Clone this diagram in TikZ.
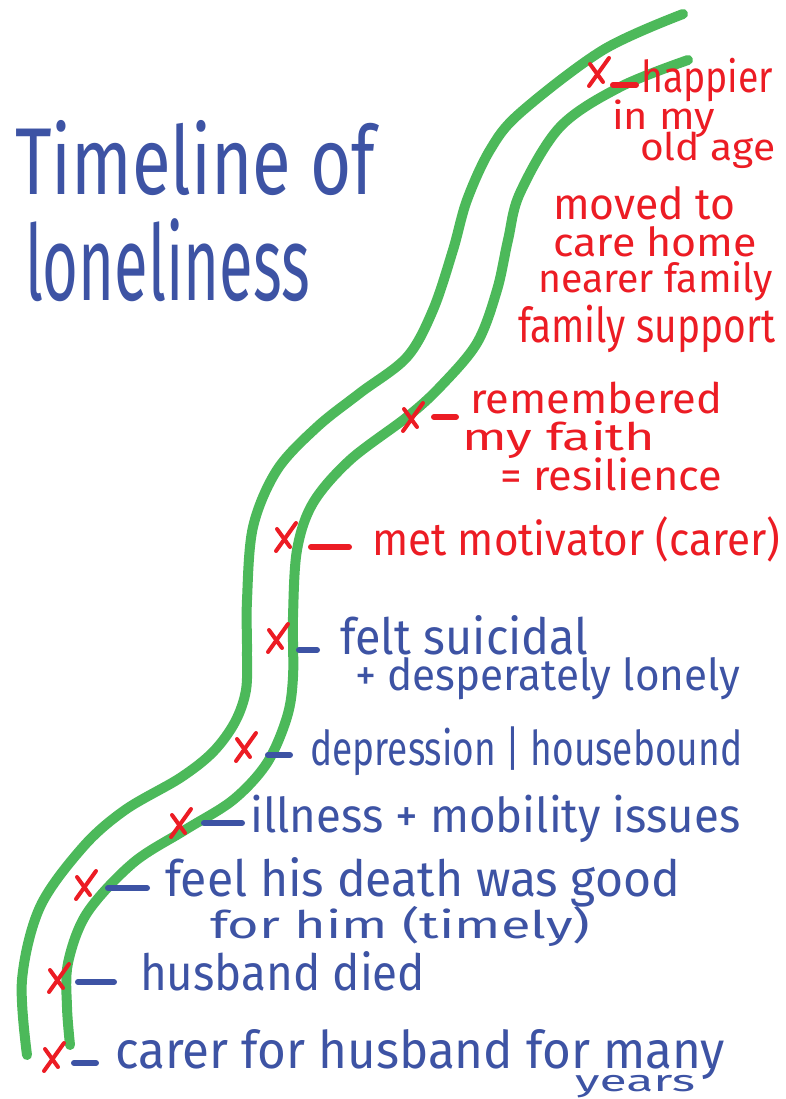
\documentclass[tikz,border=0pt]{standalone}
\usepackage{fontspec}
\setmainfont{Fira Sans}
\usepackage{graphicx}
\definecolor{tgreen}{HTML}{4CB95A}
\definecolor{tred}{HTML}{EC1C24}
\definecolor{tblue}{HTML}{3D53A4}
\newcommand\fitw[2]{\resizebox{#1pt}{\height}{#2}}
\tikzset{
  road/.style={draw=tgreen, line width=10pt, line cap=round, line join=round},
  xmark/.style={minimum size=44pt, inner sep=0pt, path picture={
      \draw[tred, line width=4pt, line cap=round]
        ([shift={(-9pt,-14pt)}]path picture bounding box.center) -- ([shift={(11pt,14pt)}]path picture bounding box.center)
        ([shift={(-8pt,8pt)}]path picture bounding box.center) -- ([shift={(5pt,-10pt)}]path picture bounding box.center);}},
  rdash/.style={draw=tred, line width=6pt, line cap=round},
  bdash/.style={draw=tblue, line width=6pt, line cap=round},
  rtext/.style={text=tred, anchor=base west, inner sep=0pt},
  btext/.style={text=tblue, anchor=base west, inner sep=0pt},
}
\newcommand\fs[1]{\fontsize{#1}{#1}\selectfont}
\begin{document}
\begin{tikzpicture}[x=1pt,y=-1pt]
\useasboundingbox (0,0) rectangle (786,1099);
% roads
\draw[road] plot[smooth, tension=0.55] coordinates {(683,14) (603,50) (520,113) (490,150) (467,200) (453,250) (433,310) (407,357) (360,393) (317,427) (277,470) (253,527) (247,600) (247,650) (246,690) (235,722) (213,752) (180,778) (125,810) (83,847) (40,907) (22,980) (27,1055)};
\draw[road] plot[smooth, tension=0.55] coordinates {(688,60) (620,87) (560,127) (520,193) (508,240) (497,290) (477,343) (440,387) (407,417) (350,460) (313,503) (297,550) (293,617) (293,677) (287,717) (267,763) (233,800) (185,830) (133,863) (87,913) (68,963) (67,1007) (70,1045)};
% title
\node[btext] (t1) at (15,195) {\fitw{360}{\fs{95}Timeline of}};
\node[btext] (t2) at (25,300) {\fitw{285}{\fs{105}loneliness}};
% marks
\node[xmark] (x1) at (598,72) {};
\node[xmark] (x2) at (412,417) {};
\node[xmark] (x3) at (285,537) {};
\node[xmark] (x4) at (277,638) {};
\node[xmark] (x5) at (245,747) {};
\node[xmark] (x6) at (180,823) {};
\node[xmark] (x7) at (85,885) {};
\node[xmark] (x8) at (58,978) {};
\node[xmark] (x9) at (53,1057) {};
% red texts
\node[rtext] (r1) at (641,93) {\fitw{132}{\fs{44}happier}};
\node[rtext] (r2) at (612,130) {\fitw{103}{\fs{38}in my}};
\node[rtext] (r3) at (640,161) {\fitw{135}{\fs{38}old age}};
\node[rtext] (r4) at (553,220) {\fitw{182}{\fs{44}moved to}};
\node[rtext] (r5) at (553,256) {\fitw{204}{\fs{40}care home}};
\node[rtext] (r6) at (538,292) {\fitw{235}{\fs{40}nearer family}};
\node[rtext] (r7) at (518,342) {\fitw{257}{\fs{48}family support}};
\node[rtext] (r8) at (470,413) {\fitw{252}{\fs{42}remembered}};
\node[rtext] (r9) at (462,450) {\fitw{193}{\fs{38}my faith}};
\node[rtext] (r10) at (500,490) {\fitw{222}{\fs{42}= resilience}};
\node[rtext] (r11) at (372,555) {\fitw{408}{\fs{46}met motivator (carer)}};
% blue texts
\node[btext] (b1) at (340,654) {\fitw{248}{\fs{50}felt suicidal}};
\node[btext] (b2) at (355,690) {\fitw{385}{\fs{44}+ desperately lonely}};
\node[btext] (b3) at (310,765) {\fitw{432}{\fs{48}depression | housebound}};
\node[btext] (b4) at (250,832) {\fitw{490}{\fs{48}illness + mobility issues}};
\node[btext] (b5) at (165,896) {\fitw{515}{\fs{50}feel his death was good}};
\node[btext] (b6) at (210,938) {\fitw{380}{\fs{38}for him (timely)}};
\node[btext] (b7) at (140,990) {\fitw{285}{\fs{50}husband died}};
\node[btext] (b8) at (115,1068) {\fitw{610}{\fs{52}carer for husband for many}};
\node[btext] (b9) at (575,1091) {\fitw{120}{\fs{30}years}};
% dash coordinates
\coordinate (d1a) at (613,85); \coordinate (d1b) at (636,85);
\coordinate (d2a) at (434,417); \coordinate (d2b) at (456,417);
\coordinate (d3a) at (311,547); \coordinate (d3b) at (349,547);
\coordinate (d4a) at (299,650); \coordinate (d4b) at (317,650);
\coordinate (d5a) at (268,755); \coordinate (d5b) at (290,755);
\coordinate (d6a) at (204,823); \coordinate (d6b) at (242,823);
\coordinate (d7a) at (108,888); \coordinate (d7b) at (147,888);
\coordinate (d8a) at (78,982); \coordinate (d8b) at (114,982);
\coordinate (d9a) at (74,1063); \coordinate (d9b) at (96,1063);
\draw[rdash] (d1a) -- (d1b);
\draw[rdash] (d2a) -- (d2b);
\draw[rdash] (d3a) -- (d3b);
\draw[bdash] (d4a) -- (d4b);
\draw[bdash] (d5a) -- (d5b);
\draw[bdash] (d6a) -- (d6b);
\draw[bdash] (d7a) -- (d7b);
\draw[bdash] (d8a) -- (d8b);
\draw[bdash] (d9a) -- (d9b);
\end{tikzpicture}
\end{document}
